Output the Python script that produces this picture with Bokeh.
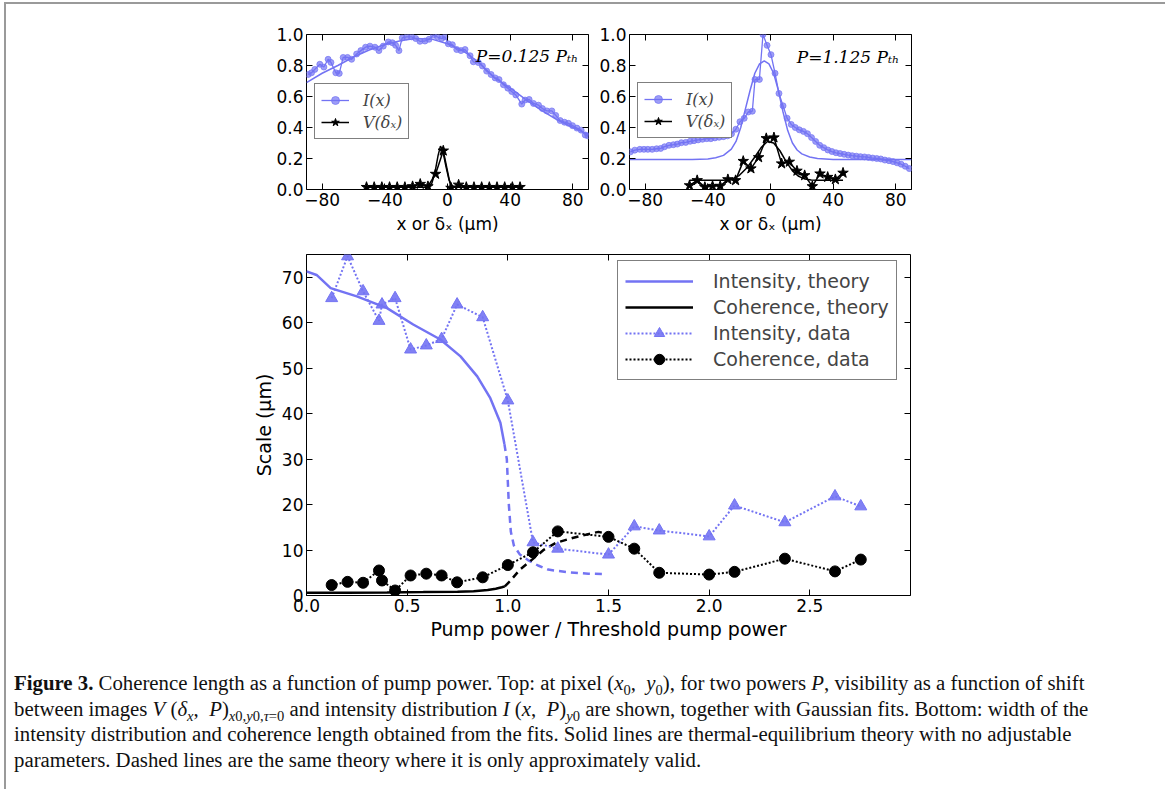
from bokeh.plotting import figure
from bokeh.layouts import column, row
from bokeh.models import (Spacer, Div, Legend, LegendItem, LinearAxis, FixedTicker, Range1d,
                          CustomLabelingPolicy)
from bokeh.embed import file_html
from bokeh.resources import INLINE
from bokeh.core.properties import value

# ---------------- data ----------------
# top-left panel, P = 0.125 P_th
I_left_x = [-88.9, -86.8, -84.7, -81.5, -78.9, -76.2, -74.4, -71.3, -69.1, -66.6, -63.8, -61.2, -58.0,
            -55.3, -52.3, -49.5, -46.3, -43.8, -41.0, -37.8, -35.2, -33.1, -31.0, -28.9, -26.1, -22.9,
            -20.3, -17.6, -14.4, -11.8, -9.0, -6.5, -3.7, -1.6, 0.5, 3.1, 5.9, 8.6, 11.2, 14.4, 16.5,
            19.7, 22.3, 25.0, 27.8, 30.4, 32.9, 35.7, 38.5, 41.0, 43.6, 47.4, 49.5, 52.1, 54.9, 58.1,
            60.6, 63.4, 66.6, 69.1, 71.9, 74.7, 77.2, 79.8, 82.6, 85.3, 87.9, 89.6]
I_left_y = [0.742, 0.753, 0.775, 0.808, 0.790, 0.840, 0.820, 0.753, 0.749, 0.852, 0.852, 0.840, 0.874,
            0.896, 0.918, 0.925, 0.918, 0.896, 0.925, 0.952, 0.947, 0.930, 0.896, 0.978, 0.985, 0.985,
            0.974, 0.956, 0.958, 0.969, 0.996, 0.985, 0.974, 0.985, 0.940, 0.934, 0.903, 0.896, 0.903,
            0.863, 0.824, 0.819, 0.797, 0.764, 0.742, 0.720, 0.709, 0.676, 0.654, 0.632, 0.610, 0.551,
            0.577, 0.581, 0.555, 0.544, 0.522, 0.507, 0.507, 0.478, 0.445, 0.434, 0.427, 0.412, 0.396,
            0.383, 0.352, 0.346]
I_left_fit_x = [-90, -80, -70, -60, -50, -40, -30, -20, -10, 0, 10, 20, 30, 40, 50, 60, 70, 80, 90]
I_left_fit_y = [0.69, 0.75, 0.80, 0.855, 0.90, 0.935, 0.96, 0.975, 0.97, 0.94, 0.895, 0.82, 0.72,
                0.655, 0.58, 0.51, 0.45, 0.40, 0.355]
shift_x = [-51.7, -46.8, -41.9, -37.0, -32.1, -27.2, -22.3, -17.4, -12.5, -7.6, -2.7, 2.2, 7.1, 12.0,
           16.9, 21.8, 26.7, 31.6, 36.5, 41.4, 46.3]
V_left_y = [0.015, 0.015, 0.015, 0.015, 0.015, 0.015, 0.02, 0.035, 0.02, 0.10, 0.25, 0.01, 0.03, 0.015,
            0.015, 0.015, 0.015, 0.015, 0.015, 0.015, 0.015]
V_left_fit_x = [-51.7, -14, -12, -10, -8, -6, -4.5, -3, -1, 1, 3, 5, 46.3]
V_left_fit_y = [0.015, 0.015, 0.02, 0.04, 0.11, 0.22, 0.28, 0.25, 0.15, 0.06, 0.025, 0.015, 0.015]

# top-right panel, P = 1.125 P_th
I_right_x = [-89.4, -86.6, -83.4, -80.8, -78.3, -75.5, -72.7, -70.1, -67.6, -64.8, -62.0, -59.5, -56.9,
             -54.1, -51.3, -48.8, -46.2, -43.4, -40.7, -38.1, -35.5, -32.8, -30.0, -27.4, -24.9, -22.1,
             -19.5, -16.8, -14.2, -11.6, -9.9, -7.1, -4.8, -2.2, 0.3, 2.9, 5.4, 8.0, 10.6, 13.2, 15.8,
             18.4, 21.0, 23.6, 26.2, 28.8, 31.4, 34.0, 36.6, 39.2, 41.8, 44.4, 47.0, 49.6, 52.2, 54.8,
             57.4, 60.0, 62.6, 65.2, 67.8, 70.4, 73.0, 75.6, 78.2, 80.8, 83.4, 86.0, 88.6]
I_right_y = [0.243, 0.254, 0.259, 0.259, 0.259, 0.259, 0.263, 0.265, 0.276, 0.285, 0.289, 0.293, 0.302,
             0.304, 0.311, 0.315, 0.320, 0.324, 0.328, 0.328, 0.333, 0.337, 0.341, 0.346, 0.359, 0.389,
             0.437, 0.459, 0.500, 0.505, 0.710, 0.710, 1.000, 0.930, 0.870, 0.750, 0.620, 0.540, 0.460,
             0.420, 0.400, 0.385, 0.375, 0.360, 0.335, 0.310, 0.285, 0.270, 0.255, 0.245, 0.237, 0.232,
             0.227, 0.222, 0.218, 0.215, 0.212, 0.210, 0.207, 0.203, 0.200, 0.197, 0.190, 0.186, 0.180,
             0.172, 0.163, 0.150, 0.135]
I_right_fit_x = [-90, -50, -40, -35, -30, -25, -22, -19, -16, -13, -10, -7, -4, -1, 2, 5, 8, 11, 14, 17,
                 20, 25, 30, 40, 90]
I_right_fit_y = [0.193, 0.193, 0.197, 0.205, 0.22, 0.26, 0.31, 0.40, 0.52, 0.64, 0.75, 0.81, 0.83, 0.81,
                 0.75, 0.64, 0.50, 0.38, 0.30, 0.255, 0.23, 0.21, 0.20, 0.193, 0.193]
V_right_y = [0.026, 0.059, 0.015, 0.022, 0.022, 0.065, 0.059, 0.183, 0.135, 0.207, 0.330, 0.335, 0.167,
             0.178, 0.120, 0.091, 0.020, 0.102, 0.080, 0.065, 0.107]
V_right_fit_x = [-51.7, -30, -25, -20, -15, -10, -6, -2, 2, 6, 10, 14, 18, 22, 26, 30, 46.3]
V_right_fit_y = [0.06, 0.06, 0.065, 0.09, 0.14, 0.21, 0.27, 0.31, 0.30, 0.25, 0.18, 0.12, 0.085, 0.068,
                 0.061, 0.06, 0.06]

# bottom panel
pump = [0.125, 0.204, 0.281, 0.36, 0.375, 0.44, 0.517, 0.595, 0.671, 0.748, 0.875, 1.0, 1.125, 1.248,
        1.5, 1.628, 1.752, 2.0, 2.126, 2.376, 2.625, 2.753]
intensity_data = [65.4, 74.6, 66.9, 60.4, 64.0, 65.4, 54.1, 55.0, 56.4, 64.0, 61.2, 42.9, 11.7, 10.3,
                  9.0, 15.2, 14.3, 13.0, 19.8, 16.1, 21.8, 19.6]
coherence_data = [2.3, 3.0, 2.8, 5.5, 3.3, 1.1, 4.4, 4.8, 4.4, 2.9, 4.0, 6.7, 9.5, 14.1, 12.9, 10.3,
                  5.0, 4.6, 5.2, 8.1, 5.3, 7.9]
int_theory_x = [0.0, 0.05, 0.12, 0.25, 0.40, 0.53, 0.665, 0.765, 0.848, 0.913, 0.963, 0.983]
int_theory_y = [71.3, 70.5, 67.6, 65.8, 63.2, 59.6, 56.3, 52.6, 48.2, 43.4, 38.0, 33.3]
int_approx_x = [0.983, 0.995, 1.0, 1.005, 1.015, 1.03, 1.06, 1.1, 1.15, 1.2, 1.3, 1.4, 1.49]
int_approx_y = [33.3, 30.0, 25.0, 20.0, 14.0, 11.0, 9.0, 7.8, 6.6, 5.7, 5.1, 4.8, 4.7]
coh_theory_x = [0.0, 0.2, 0.4, 0.58, 0.75, 0.83, 0.9, 0.94, 0.97, 0.985]
coh_theory_y = [0.6, 0.62, 0.66, 0.75, 0.85, 0.95, 1.2, 1.5, 1.8, 2.0]
coh_approx_x = [0.985, 1.01, 1.06, 1.11, 1.18, 1.24, 1.326, 1.41, 1.45, 1.5]
coh_approx_y = [2.0, 3.1, 5.7, 7.5, 10.1, 11.6, 12.7, 13.6, 14.0, 13.5]

top_xticks = [-80, -40, 0, 40, 80]
top_xlabels = {-80: "\u221280", -40: "\u221240", 0: "0", 40: "40", 80: "80"}
top_yticks = [0.0, 0.2, 0.4, 0.6, 0.8, 1.0]
top_ylabels = {0.0: "0.0", 0.2: "0.2", 0.4: "0.4", 0.6: "0.6", 0.8: "0.8", 1.0: "1.0"}
bot_xticks = [0.0, 0.5, 1.0, 1.5, 2.0, 2.5]
bot_xlabels = {0.0: "0.0", 0.5: "0.5", 1.0: "1.0", 1.5: "1.5", 2.0: "2.0", 2.5: "2.5"}
bot_yticks = [0, 10, 20, 30, 40, 50, 60, 70]

BLUE = "#7373f3"
FONT = "DejaVu Sans"


def style(p, xticks, yticks, xlab, ylab, fs):
    p.add_layout(LinearAxis(), "above")
    p.add_layout(LinearAxis(), "right")
    for ax in p.xaxis:
        ax.ticker = FixedTicker(ticks=xticks)
        ax.major_label_overrides = xlab
    for ax in p.yaxis:
        ax.ticker = FixedTicker(ticks=yticks)
        ax.major_label_overrides = ylab
    for ax in p.axis:
        ax.major_tick_in = 6
        ax.major_tick_out = 0
        ax.minor_tick_in = 0
        ax.minor_tick_out = 0
        ax.major_tick_line_color = "black"
        ax.axis_line_color = None
        ax.major_label_text_font = FONT
        ax.major_label_text_font_size = fs
        ax.major_label_text_color = "black"
        ax.major_label_standoff = 3
        ax.axis_label_text_font = FONT
        ax.axis_label_text_font_style = "normal"
        ax.axis_label_text_color = "black"
    for ax in (p.above[0], p.right[0]):
        # tick marks only: no labels are drawn and none take space
        ax.major_label_policy = CustomLabelingPolicy(code="return []")
        ax.major_label_text_font_size = "0px"
        ax.major_label_standoff = 0
    p.xgrid.visible = False
    p.ygrid.visible = False
    p.outline_line_color = "black"
    p.outline_line_width = 1


def top_panel(left_border, right_border, Ix, Iy, Ifx, Ify, Vy, Vfx, Vfy, label, lab_pos, leg_loc):
    p = figure(width=left_border + 282 + right_border, height=235, output_backend="svg",
               toolbar_location=None, x_range=Range1d(-90, 90), y_range=Range1d(0, 1.0),
               min_border_left=left_border, min_border_right=right_border,
               min_border_top=30, min_border_bottom=50)
    style(p, top_xticks, top_yticks, top_xlabels, top_ylabels, "17px")
    p.below[0].axis_label = "x or \u03b4\u2093 (\u03bcm)"
    p.below[0].axis_label_text_font_size = "17px"
    p.below[0].axis_label_standoff = 5
    il = p.line(Ix, Iy, line_color=BLUE, line_width=1.3)
    isc = p.scatter(Ix, Iy, marker="circle", size=6, fill_color=BLUE, fill_alpha=0.7,
                    line_color=BLUE, line_alpha=0.7)
    p.line(Ifx, Ify, line_color=BLUE, line_width=1.5)
    vl = p.line(shift_x, Vy, line_color="black", line_width=1.5)
    vsc = p.scatter(shift_x, Vy, marker="star", size=11, fill_color="black", line_color="black")
    p.line(Vfx, Vfy, line_color="black", line_width=1.5)
    p.text(x=[lab_pos[0]], y=[lab_pos[1]], text=[label], text_align="right", text_baseline="middle",
           text_font=value("DejaVu Serif"), text_font_style="italic", text_font_size="17px",
           text_color="black")
    leg = Legend(items=[LegendItem(label="I(x)", renderers=[il, isc]),
                        LegendItem(label="V(\u03b4\u2093)", renderers=[vl, vsc])],
                 location=leg_loc, margin=0, padding=6, spacing=2, label_height=20, glyph_height=20,
                 glyph_width=28, label_standoff=14, label_text_font="DejaVu Serif",
                 label_text_font_style="italic", label_text_font_size="16px",
                 border_line_color="black", border_line_width=1, background_fill_alpha=1)
    p.add_layout(leg)
    return p


p_tl = top_panel(50, 5, I_left_x, I_left_y, I_left_fit_x, I_left_fit_y, V_left_y, V_left_fit_x,
                 V_left_fit_y, "P=0.125 P\u209c\u2095", (83.6, 0.863), (8, 50))
p_tr = top_panel(36, 10, I_right_x, I_right_y, I_right_fit_x, I_right_fit_y, V_right_y, V_right_fit_x,
                 V_right_fit_y, "P=1.125 P\u209c\u2095", (82.3, 0.853), (8, 51))

# bottom panel
p = figure(width=62 + 604 + 10, height=406, output_backend="svg", toolbar_location=None,
           x_range=Range1d(0, 3.0), y_range=Range1d(0, 75),
           min_border_left=62, min_border_right=10, min_border_top=15, min_border_bottom=50)
style(p, bot_xticks, bot_yticks, bot_xlabels, {}, "17px")
p.below[0].axis_label = "Pump power / Threshold pump power"
p.below[0].axis_label_text_font_size = "19px"
p.below[0].axis_label_standoff = 3
p.left[0].axis_label = "Scale (\u03bcm)"
p.left[0].axis_label_text_font_size = "19px"
p.left[0].axis_label_standoff = 4

it = p.line(int_theory_x, int_theory_y, line_color=BLUE, line_width=2.5)
p.line(int_approx_x, int_approx_y, line_color=BLUE, line_width=2.5, line_dash="7 5")
ct = p.line(coh_theory_x, coh_theory_y, line_color="black", line_width=2.5)
p.line(coh_approx_x, coh_approx_y, line_color="black", line_width=2.5, line_dash="7 5")
idl = p.line(pump, intensity_data, line_color=BLUE, line_width=2, line_dash="2 2")
ids = p.scatter(pump, intensity_data, marker="triangle", size=12, fill_color=BLUE, line_color=BLUE,
                fill_alpha=0.9)
cdl = p.line(pump, coherence_data, line_color="black", line_width=2, line_dash="2 2")
cds = p.scatter(pump, coherence_data, marker="circle", size=11, fill_color="black", line_color="black")

leg = Legend(items=[LegendItem(label="Intensity, theory", renderers=[it]),
                    LegendItem(label="Coherence, theory", renderers=[ct]),
                    LegendItem(label="Intensity, data", renderers=[idl, ids]),
                    LegendItem(label="Coherence, data", renderers=[cdl, cds])],
             location=(311, 215), margin=0, padding=7, spacing=0, label_height=26, glyph_height=26,
             glyph_width=68, label_standoff=20, label_text_font=FONT, label_text_font_size="19px",
             border_line_color="black", border_line_width=1, background_fill_alpha=1)
p.add_layout(leg)

SUB = "<sub style='line-height:0;font-size:70%'>"
caption_html = (
    "<b>Figure 3.</b> Coherence length as a function of pump power. Top: at pixel "
    f"(<i>x</i>{SUB}0</sub>, &nbsp;<i>y</i>{SUB}0</sub>), for two powers <i>P</i>, visibility as a function of shift<br>"
    f"between images <i>V</i> (<i>\u03b4{SUB}x</sub></i>, &nbsp;<i>P</i>){SUB}<i>x</i>0,<i>y</i>0,<i>\u03c4</i>=0</sub> "
    f"and intensity distribution <i>I</i> (<i>x</i>, &nbsp;<i>P</i>){SUB}<i>y</i>0</sub> are shown, together with "
    "Gaussian fits. Bottom: width of the<br>"
    "intensity distribution and coherence length obtained from the fits. Solid lines are thermal-equilibrium "
    "theory with no adjustable<br>"
    "parameters. Dashed lines are the same theory where it is only approximately valid."
)
caption = Div(text=caption_html, width=1150, height=138,
              styles={"font-family": "Liberation Serif", "font-size": "20.8px", "line-height": "25.7px",
                      "white-space": "nowrap", "padding-left": "3px", "padding-top": "20px",
                      "color": "#111"})

layout = column(
    row(Spacer(width=250, height=235), p_tl, p_tr),
    row(Spacer(width=238, height=406), p),
    caption,
    styles={"border": "2px solid #9a9a9a"},
    margin=(2, 0, 0, 4),
)

open("out.html", "w").write(file_html(layout, INLINE))
